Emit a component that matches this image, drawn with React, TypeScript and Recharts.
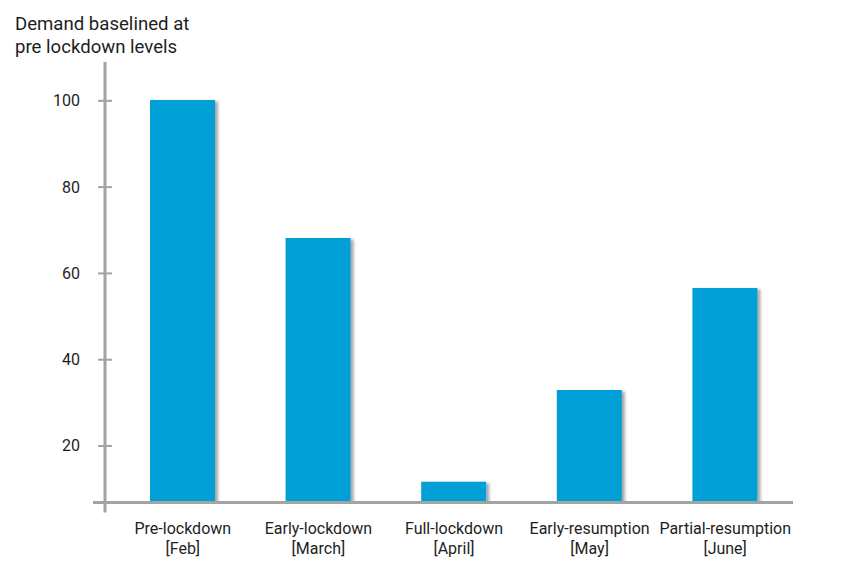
import React from "react";
import { Bar, BarChart, Rectangle, XAxis, YAxis } from "recharts";

const phases = ["Pre-lockdown", "Early-lockdown", "Full-lockdown", "Early-resumption", "Partial-resumption"];
const months = ["[Feb]", "[March]", "[April]", "[May]", "[June]"];
const demand = [100.2, 68.2, 11.7, 33.0, 56.6];
const yTicks = [6.9, 20, 40, 60, 80, 100];

const data = phases.map((phase, i) => ({ phase, month: months[i], demand: demand[i] }));

const AXIS = "#a3a3a3";
const BAR = "#009fd6";
const TEXT = "#1e1e1e";
const FONT = "Roboto, sans-serif";

function YTick(props: any) {
  const { x, y, payload, index } = props;
  if (index === 0) {
    // stubs where the two axes cross
    return (
      <g>
        <line x1={x - 12} x2={x} y1={y} y2={y} stroke={AXIS} strokeWidth={3} />
        <line x1={x} x2={x} y1={y} y2={y + 10} stroke={AXIS} strokeWidth={3} />
      </g>
    );
  }
  return (
    <g>
      <line x1={x - 7} x2={x + 7} y1={y} y2={y} stroke={AXIS} strokeWidth={2} />
      <text x={x - 25} y={y} dy={5.5} textAnchor="end" fontSize={16} fontFamily={FONT} fill={TEXT}>
        {payload.value}
      </text>
    </g>
  );
}

function XTick(props: any) {
  const { x, y, index } = props;
  return (
    <text x={x} y={y} textAnchor="middle" fontSize={16} fontFamily={FONT} fill={TEXT}>
      <tspan x={x} dy={31}>{phases[index]}</tspan>
      <tspan x={x} dy={20}>{months[index]}</tspan>
    </text>
  );
}

export default function App() {
  return (
    <div style={{ position: "absolute", left: 0, top: 0, width: 847, height: 581, background: "#fff" }}>
      <div
        style={{
          position: "absolute",
          left: 15,
          top: 13,
          fontFamily: FONT,
          fontSize: 18.6,
          lineHeight: "23px",
          color: TEXT
        }}
      >
        Demand baselined at
        <br />
        pre lockdown levels
      </div>
      <BarChart
        width={847}
        height={581}
        data={data}
        margin={{ top: 62, right: 54, bottom: 0, left: 0 }}
        barCategoryGap={0}
      >
        <defs>
          <filter id="barShadow" x="-10%" y="-10%" width="130%" height="130%">
            <feDropShadow dx={3} dy={1.5} stdDeviation={1.5} floodColor="#000" floodOpacity={0.35} />
          </filter>
        </defs>
        <XAxis
          dataKey="phase"
          height={78.5}
          axisLine={{ stroke: AXIS, strokeWidth: 3 }}
          tickLine={false}
          tickSize={0}
          tickMargin={0}
          tick={<XTick />}
          padding={{ left: 10, right: 0 }}
          interval={0}
        />
        <YAxis
          width={105}
          domain={[6.9, 109]}
          ticks={yTicks}
          allowDataOverflow
          axisLine={{ stroke: AXIS, strokeWidth: 3 }}
          tickLine={false}
          tickSize={0}
          tickMargin={0}
          tick={<YTick />}
          interval={0}
        />
        <Bar
          dataKey="demand"
          fill={BAR}
          barSize={65}
          isAnimationActive={false}
          shape={(p: any) => <Rectangle {...p} filter="url(#barShadow)" />}
        />
      </BarChart>
    </div>
  );
}
